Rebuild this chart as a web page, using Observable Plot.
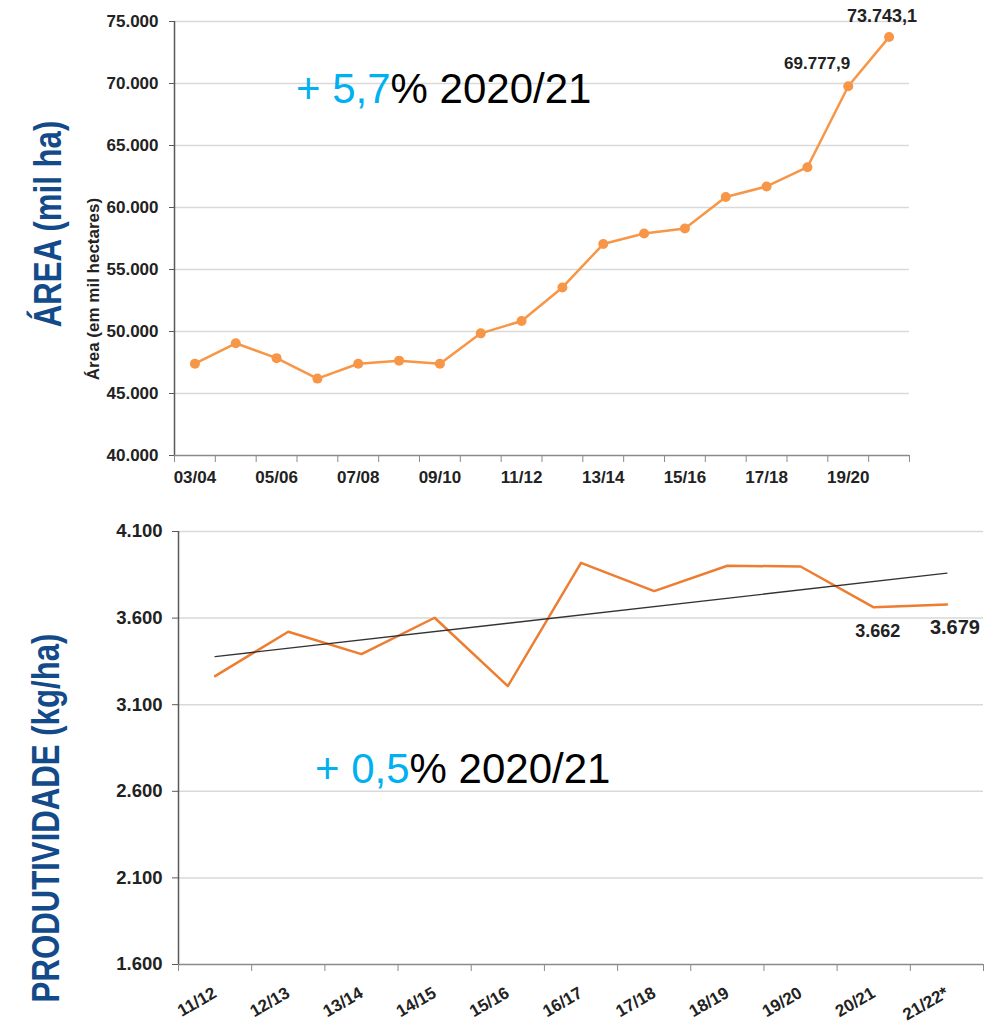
<!DOCTYPE html>
<html>
<head>
<meta charset="utf-8">
<script src="https://cdn.jsdelivr.net/npm/d3@7"></script>
<script src="https://cdn.jsdelivr.net/npm/@observablehq/plot@0.6"></script>
<style>
  html, body { margin: 0; padding: 0; background: #ffffff; }
  #root { position: relative; width: 1006px; height: 1026px; overflow: hidden; background: #ffffff;
          font-family: 'Liberation Sans', Arial, Helvetica, sans-serif; }
  .chart { position: absolute; left: 0; }
  .rot { position: absolute; white-space: nowrap; line-height: 1;
         transform: translate(-50%, -50%) rotate(-90deg); }
  .big { color: #134a8a; font-size: 38px; font-weight: bold;
         transform: translate(-50%, -50%) rotate(-90deg) scaleX(0.82); }
  .small { color: #222; font-size: 17px; font-weight: bold; }
  .note { position: absolute; white-space: nowrap; line-height: 1; font-size: 42px; color: #000; }
  .note .hl { color: #00b0f0; }
</style>
</head>
<body>
<div id="root">
  <div class="chart" id="top" style="top:0"></div>
  <div class="chart" id="bottom" style="top:495px"></div>
  <div class="rot big" style="left:48px; top:224px;">ÁREA (mil ha)</div>
  <div class="rot small" style="left:93px; top:288.5px;">Área (em mil hectares)</div>
  <div class="rot big" style="left:46px; top:818px;">PRODUTIVIDADE (kg/ha)</div>
  <div class="note" style="left:296px; top:68px;"><span class="hl">+ 5,7</span>% 2020/21</div>
  <div class="note" style="left:315px; top:748px;"><span class="hl">+ 0,5</span>% 2020/21</div>
</div>
<script>
// ---------- data ----------
const areaSeasons = ["03/04","04/05","05/06","06/07","07/08","08/09","09/10","10/11","11/12",
                     "12/13","13/14","14/15","15/16","16/17","17/18","18/19","19/20","20/21"];
const areaValues  = [47400, 49050, 47850, 46200, 47400, 47650, 47400, 49850, 50850,
                     53550, 57050, 57900, 58300, 60850, 61700, 63250, 69777.9, 73743.1];
const areaTicks   = [40000, 45000, 50000, 55000, 60000, 65000, 70000, 75000];
const areaLabeledSeasons = ["03/04","05/06","07/08","09/10","11/12","13/14","15/16","17/18","19/20"];

const prodSeasons = ["11/12","12/13","13/14","14/15","15/16","16/17","17/18","18/19","19/20","20/21","21/22*"];
const prodValues  = [3265, 3521, 3392, 3602, 3207, 3919, 3756, 3902, 3898, 3662, 3679];
const prodTicks   = [1600, 2100, 2600, 3100, 3600, 4100];

// ---------- helpers ----------
const FONT = "'Liberation Sans', Arial, Helvetica, sans-serif";
const br = d3.formatLocale({decimal: ",", thousands: ".", grouping: [3], currency: ["R$", ""]});
const fmtInt = br.format(",d");
const fmt1 = br.format(",.1f");

// ---------- top chart: area ----------
const areaData = areaSeasons.map((s, i) => ({season: s, i, x: i + 0.5, value: areaValues[i]}));
const areaBounds = d3.range(0, areaSeasons.length + 1);
const areaLabelX = areaLabeledSeasons.map(s => areaSeasons.indexOf(s) + 0.5);
const areaName = x => areaSeasons[Math.round(x - 0.5)];

const topChart = Plot.plot({
  width: 1006, height: 495,
  marginLeft: 174, marginRight: 97, marginTop: 21, marginBottom: 40,
  style: {fontFamily: FONT, background: "transparent", overflow: "visible", color: "#222"},
  x: {type: "linear", domain: [0, areaSeasons.length], axis: null},
  y: {domain: [40000, 75000], axis: null},
  marks: [
    Plot.gridY(areaTicks.slice(1), {stroke: "#d9d9d9", strokeOpacity: 1, strokeWidth: 1.5}),
    Plot.axisY(areaTicks, {tickSize: 5, tickPadding: 11, tickFormat: fmtInt, fontSize: 17,
      fontWeight: "bold", stroke: "#595959", fill: "#222", label: null}),
    Plot.axisX(areaBounds, {tickSize: 7, tickFormat: () => "", stroke: "#8a8a8a", label: null}),
    Plot.axisX(areaLabelX, {tickSize: 0, tickPadding: 15, tickFormat: areaName, fontSize: 17,
      fontWeight: "bold", fill: "#222", label: null}),
    Plot.ruleX([0], {stroke: "#595959", strokeWidth: 1.5}),
    Plot.ruleY([40000], {stroke: "#8a8a8a", strokeWidth: 1.5}),
    Plot.line(areaData, {x: "x", y: "value", stroke: "#f79646", strokeWidth: 2.5}),
    Plot.dot(areaData, {x: "x", y: "value", r: 5, fill: "#f79646", stroke: "none"}),
    Plot.text(areaData.filter(d => d.season === "19/20"), {x: "x", y: "value", text: d => fmt1(d.value),
      textAnchor: "end", dx: 2, dy: -23, fontSize: 17, fontWeight: "bold", fill: "#222"}),
    Plot.text(areaData.filter(d => d.season === "20/21"), {x: "x", y: "value", text: d => fmt1(d.value),
      textAnchor: "middle", dx: -7, dy: -21, fontSize: 18, fontWeight: "bold", fill: "#222"})
  ]
});
document.getElementById("top").appendChild(topChart);

// ---------- bottom chart: productivity ----------
const prodData = prodSeasons.map((s, i) => ({season: s, i, x: i + 0.5, value: prodValues[i]}));
const prodBounds = d3.range(0, prodSeasons.length + 1);
const prodLabelX = prodSeasons.map((s, i) => i + 0.5);
const prodName = x => prodSeasons[Math.round(x - 0.5)];

const bottomChart = Plot.plot({
  width: 1006, height: 531,
  marginLeft: 178, marginRight: 23, marginTop: 36, marginBottom: 62,
  style: {fontFamily: FONT, background: "transparent", overflow: "visible", color: "#222"},
  x: {type: "linear", domain: [0, prodSeasons.length], axis: null},
  y: {domain: [1600, 4100], axis: null},
  marks: [
    Plot.gridY(prodTicks.slice(1), {stroke: "#d9d9d9", strokeOpacity: 1, strokeWidth: 1.5}),
    Plot.axisY(prodTicks, {tickSize: 6, tickPadding: 10, tickFormat: fmtInt, fontSize: 18.5,
      fontWeight: "bold", stroke: "#595959", fill: "#222", label: null}),
    Plot.axisX(prodBounds, {tickSize: 7, tickFormat: () => "", stroke: "#8a8a8a", label: null}),
    Plot.axisX(prodLabelX, {tickSize: 0, tickPadding: 27, tickRotate: -30, tickFormat: prodName,
      fontSize: 17, fontWeight: "bold", fill: "#222", label: null}),
    Plot.ruleX([0], {stroke: "#595959", strokeWidth: 1.5}),
    Plot.ruleY([1600], {stroke: "#8a8a8a", strokeWidth: 1.5}),
    Plot.line(prodData, {x: "x", y: "value", stroke: "#ed7d31", strokeWidth: 2.5}),
    Plot.linearRegressionY(prodData, {x: "x", y: "value", stroke: "#333", strokeWidth: 1.3, ci: 0}),
    Plot.text(prodData.filter(d => d.season === "20/21"), {x: "x", y: "value", text: d => fmtInt(d.value),
      dx: 4, dy: 24, fontSize: 18, fontWeight: "bold", fill: "#222"}),
    Plot.text(prodData.filter(d => d.season === "21/22*"), {x: "x", y: "value", text: d => fmtInt(d.value),
      dx: 8, dy: 23, fontSize: 20, fontWeight: "bold", fill: "#222"})
  ]
});
document.getElementById("bottom").appendChild(bottomChart);
</script>
</body>
</html>
